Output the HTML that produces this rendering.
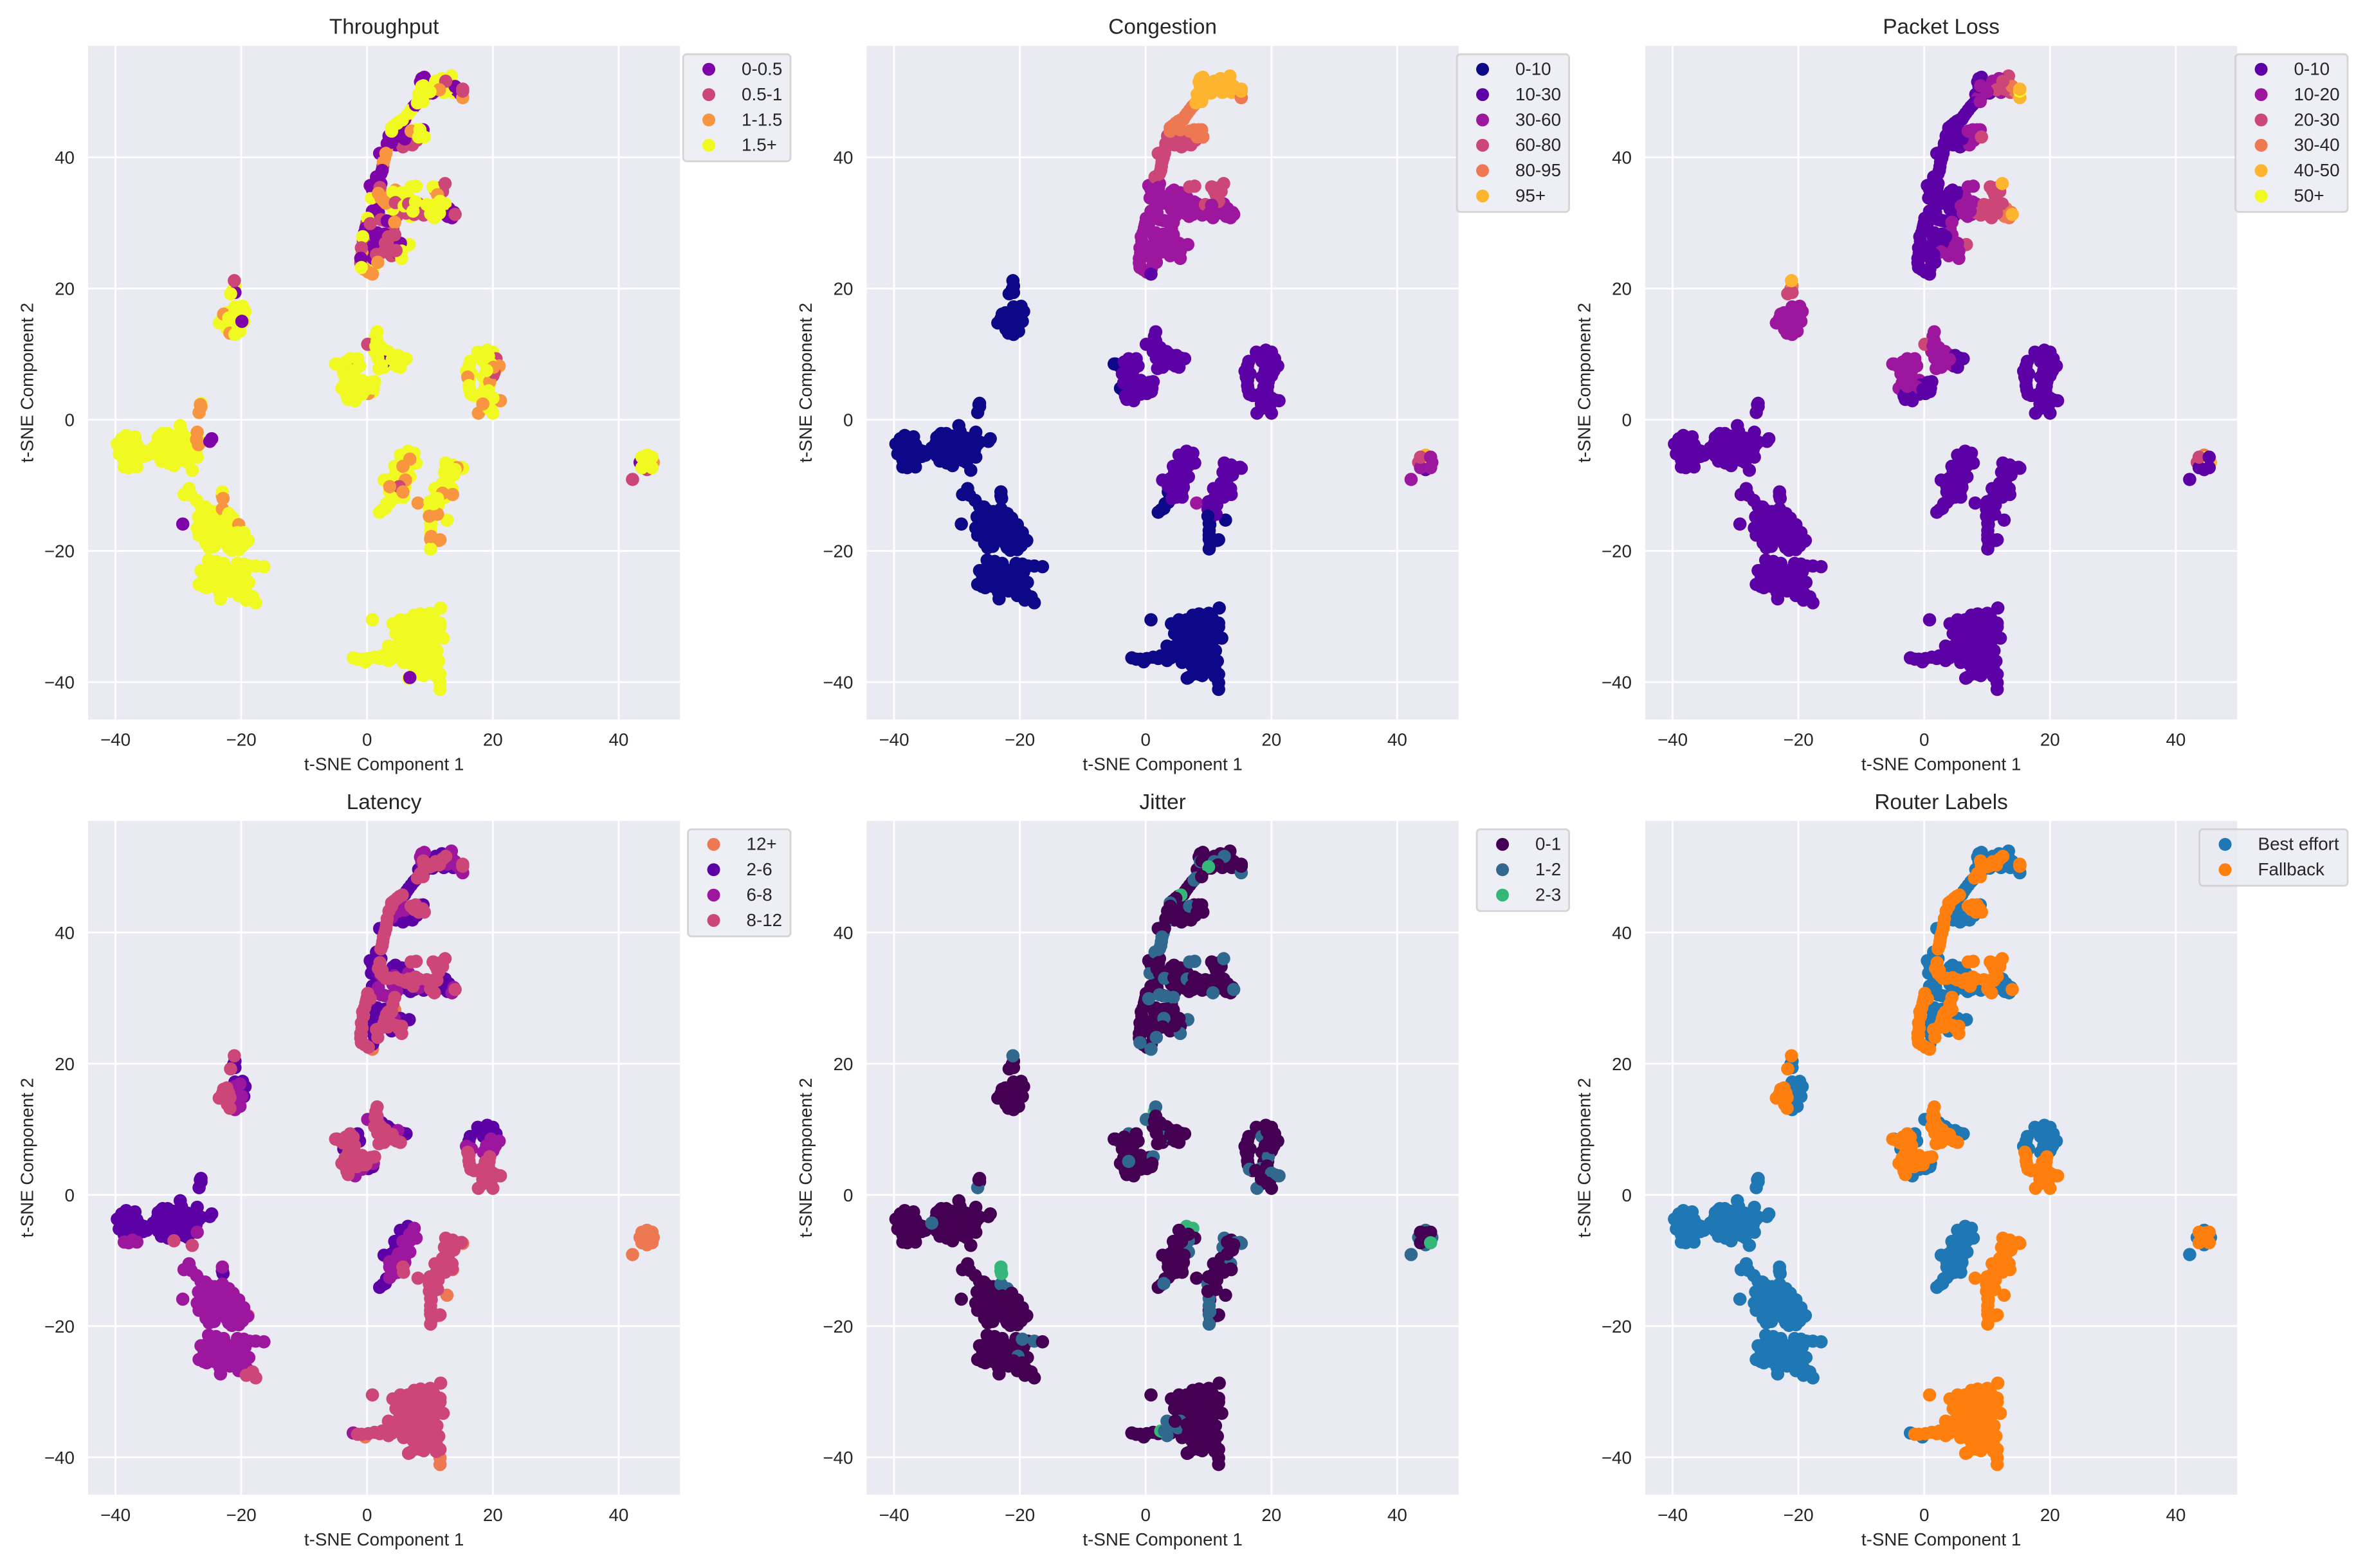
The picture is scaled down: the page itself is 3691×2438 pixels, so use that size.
<!DOCTYPE html>
<html lang="en">
<head>
<meta charset="utf-8">
<title>t-SNE network metric panels</title>
<style>
html,body{margin:0;padding:0;background:#fff}
svg{display:block}
text{font-family:"Liberation Sans",Arial,sans-serif;fill:#262626}
</style>
</head>
<body>
<svg id="figure" xmlns="http://www.w3.org/2000/svg" width="3691" height="2438" viewBox="0 0 3691 2438"></svg>
<script>
const tsneX = [
8.5,9.5,9.8,8.2,9.1,8.7,11,11.8,12.2,13,
13.7,14.3,14.8,13.4,6.3,6,7.4,6.6,4,5,
6,4.6,6.6,3.5,5.7,7,7.9,1.2,2.2,1,
2,1,2.2,4.5,5.5,4.3,5.6,6.6,4.7,6.9,
7.5,9,9,1.3,0.8,1.8,2.7,12.3,13,13.5,
12.4,1.6,2.4,1.9,1.3,1.2,0.9,0.5,3.4,4.3,
6,3.9,5,3.5,3.1,2.8,2.5,4.3,5.2,2.4,
2.6,3.6,5.2,6.2,6.9,8.2,10.9,11.4,11.1,10,
10.4,11.3,0,-0.1,-0.4,-0.6,-0.8,-0.9,-1,-0.4,
0.2,4.1,3.9,3.1,2.7,2.1,4,5,3.3,9.5,
10.5,12,11,9.1,8.5,7.5,8.8,7.7,12,12,
6,7,6.2,5.3,4.6,5.8,4.8,5.9,3.6,4.4,
4.9,4.2,3.8,3.1,2.5,6.4,5.5,5.2,12.8,13.5,
12.8,12.5,13,11.8,12.4,11.5,12.4,10.9,11,10.4,
10.5,10.2,10.2,10.1,10.3,10.7,-3.2,-4.2,-2.2,-2.3,
-3,-2.6,-1.5,-0.8,-1.6,-0.6,0,-3.5,1.3,1.8,
2.9,3.9,4.6,5.6,2.7,3.5,4.7,2.2,16.6,16.2,
16.3,17,17.9,18.6,19.9,19,20.4,18.9,19.5,18.2,
19.5,20.6,18.4,19.8,19.4,18.8,-21,-20.9,-21,-22.4,
-23,-22.2,-21.4,-21.2,-24.6,-23.4,-22,-25.9,-24.4,-22.2,
-21,-20.6,-19.4,-20.1,-19.1,-18.7,-25.5,-26,-28,-26.4,
-25.2,-23.4,-25.8,-26.4,-27,-26,-24.6,-24.3,-23.4,-22.2,
-21,-22.3,-20.8,-20,-25.6,-38.9,-38,-38.2,-37,-36,
-35.5,-31,-30,-28.3,-32,-29.8,-33,-31.8,-28.7,-28.5,
7,9.8,5,6.5,11,6,11,7.3,9,10.8,
4,2,0.2,5.8,5.9,9.7,8.5,11,-20.4,-23.3,
-39.7,-39,-38.3,-37.6,-36.9,-36.6,-39.4,-38.5,-37.7,-36.8,
-38.6,-37.6,-36.5,-35.6,-35,-38.6,-37.9,-37.3,-36.6,-38,
-34.3,-33.3,-33.2,-32.5,-31.7,-30.8,-29.7,-29.5,-28.5,-27.8,
-33.2,-32.5,-31.5,-30.3,-29.2,-32.7,-31.6,-30.4,-29.2,-28,
-31.6,-30.7,-30.3,-29.1,-28,-27,-27.8,-27.2,-26.4,-27,
-34,-32.8,-27.1,-26.8,-24.7,-25,-26.4,-26.4,-26.7,-26.5,
-28.3,-29.1,-27.1,-25.7,-23,-29.3,-26.8,-25.5,-24.2,-23,
-22,-21.3,-26.5,-25.2,-24,-22.8,-21.5,-20.4,-26.7,-25.5,
-24.2,-23,-21.8,-20.6,-19.6,-25,-23.8,-22.6,-21.4,-20.2,
-19,-25.1,-24.8,-22,-21.5,-20.4,-19.8,-23,-22.9,-18.9,
-25.2,-24,-26.4,-26.7,-25.5,-24.3,-23.3,-22.3,-20.3,-19.6,
-17.7,-16.4,-18.8,-21.8,-20.4,-19.2,-18.2,-17.7,-25.2,-24,
-23,-21.5,-20.3,-25,-23.7,-22.5,-21,-19.6,-23.4,-22.8,
0.85,11.7,10.05,7.5,5.3,4.1,4.6,3.4,-0.85,1.2,
3.4,5.1,11.6,11.6,12.1,11.1,11.4,6.6,8.5,11,
11.6,11.6,11.6,-2.2,-0.3,-1.5,6.5,8,9.3,10.6,
6.6,7.8,9,10.3,5.8,7,8.2,9.4,10.6,4.2,
5.5,6.6,7.8,9,10.2,6.8,8,9.2,10.4,7.8,
9,10,11,7.5,9.3,2.4,3,5.5,4.7,6.8,
6.5,7.5,7.8,4.4,6.8,6.8,2.7,3.9,5.6,5,
3.6,5.8,3.6,2,2.9,6,4.8,5,4.2,5.3,
6.8,5.7,6.1,5.1,3.6,5.7,8.1,12.5,13.6,15,
12.3,13.8,12,10.8,13.5,13.5,11.8,11.3,9.9,10.1,
12.7,10.1,10.1,11.4,10.1,10.1,15.2,14.3,12,13.6,
11.2,9.9,11.6,10.2,13,14,13,11.2,10.6,10,
-5,-3.8,-2.7,-2.7,-2.1,-1.7,-4,-2.9,-3,-0.5,
0.6,1.2,-4.8,-3.7,-1.5,-1.2,-1.9,0.9,0.2,1,
-3.4,-2,-0.8,-2,-1.2,-3.5,-2.3,-3.2,-2.7,-0.2,
1.4,1.6,1.2,2.2,3.2,1.9,4.1,5.3,0.1,1.4,
3.3,4.9,6.2,5.3,2.7,2.3,2.3,4,1.6,1.7,
16.2,15.8,17.6,19.1,20,20.5,21,20,18.5,18.5,
19.7,19.3,16,16.2,16.5,18.3,19.5,19.3,18.9,21.2,
20,17.7,20,19.3,17.5,18.4,16.4,20.2,20.1,19,
-21,-21,-21.1,-21.7,-23.5,-22.3,-22.8,-21.8,-21.8,-22,
-19.8,-19.4,-19.6,-20.2,-21,-20.2,-20.5,-20.5,-21,-19.9,
43.4,44.5,45.5,44.5,44.5,44.7,43.7,43.7,45.3,45.3,
42.2,9.1,13.4,10.9,8.7,15.2,10.4,12.8,14,7,
7.7,8.9,7.2,6,3.9,2,0.85,0.7,0.5,4.1,
5.1,0.85,2.2,3.2,4.1,6.2,8.3,12.8,13.8,1.4,
0.99,6.7,5.3,2.8,2.1,1,1.5,4.9,5.5,11.9,
11.5,8.95,10.9,12.5,11.5,10,15.2,15.2,8,8.9,
5.6,4.8,3.9,3.9,7,8.4,8.2,9.1,3.2,3,
2.6,2.4,2.2,2.05,1.8,2.2,3,4.5,5.9,6.6,
7.7,7.3,7,7.8,10.5,12.4,11.2,11.6,9.5,10.5,
10.1,10.7,14,0.1,-0.2,-0.7,-0.9,-1,-0.9,0.85,
4.4,4.4,3.4,2.9,2.7,1.5,1.7,5.5,5.5,4.6,0.5
];
const tsneY = [
51.5,51,50.4,49.6,49.3,52,50.2,50.8,49.9,51,
49.9,50.2,49.7,51.4,46.3,45.8,47.7,46.7,43.5,42.6,
43.4,41.9,42,43.2,41.6,43,42.6,36,36,34.5,
34.5,33.7,33.5,35,34.6,33.4,33.4,33.8,31,31,
31.3,32,31.2,32,30.9,31.6,30.4,31.5,32.2,30.8,
32.9,28.5,28,27,25.5,24,23,26,26.8,26.9,
26.5,25,25.3,43.3,41.3,39.9,38.6,44.8,45.5,34.2,
33.4,33,32.8,32.4,32.2,32.9,34.9,34,32.7,32.4,
31.1,35.3,30,29.6,28.5,27.2,25.4,24.4,23.9,22.9,
22.5,29.1,27.9,27.5,26.2,25.4,26,25.4,25.6,50.4,
50.2,51.2,50.5,50.2,49,43.5,43.6,44.2,34.8,35.5,
-5.8,-6.2,-7.5,-7.2,-8,-8.6,-9.5,-9.8,-9.9,-10.8,
-11.8,-11.3,-12.2,-12.8,-13.7,-8.2,-6.5,-11,-7.5,-7.8,
-8.6,-9.2,-10,-10.5,-10.8,-11,-11.8,-12,-13.2,-13.8,
-14,-15.2,-16,-17.6,-18.9,-18.5,8.2,8.2,8.8,7,
6.3,5.8,6,6,4.3,4.6,5.2,4.4,11.8,10.9,
9.9,9.9,9,9.4,8,8.6,8.2,10.4,7,6,
4.6,3.7,9.8,10.1,9.5,8.8,7.5,7,6.8,3.4,
3.3,3,1.7,2.3,5.1,5,15.6,14.5,17.2,14.8,
15.4,13.8,14.1,19.9,-22.4,-22.6,-23.9,-24,-24,-24.5,
-23.2,-21.9,-23.2,-25.8,-26.5,-22.3,-22.8,-25.4,-11.5,-13.2,
-13.8,-14.8,-15,-15.2,-16.5,-17.8,-17.5,-19.3,-17.4,-15.7,
-16.6,-18.9,-19,-18,-18.8,-3.8,-3.4,-5.3,-5.7,-4.6,
-4.8,-3.2,-3,-3.9,-5,-5.8,-4.4,-6,-5.3,-6.5,
-30.8,-31,-31.6,-31.5,-31.8,-35.5,-33.4,-37.4,-39,-37.2,
-36.3,-36.4,-36.4,-37,-36.5,-29.7,-29.6,-37,-24.8,-23.7,
-3.7,-2.9,-2.4,-3.3,-2.6,-3.8,-5.2,-4.2,-4.8,-4.9,
-6.1,-5.8,-6,-5.6,-5.4,-7.2,-7.3,-6.9,-7.2,-6.5,
-4.8,-3.5,-2.7,-2.1,-2.1,-2.5,-0.9,-1.8,-2.8,-3,
-5.5,-4.3,-3.5,-3.6,-3.4,-6.3,-5.2,-4.9,-4.8,-4.4,
-6.6,-7,-6,-6.2,-5.8,-5.7,-7.7,-4.6,-3.4,-1.9,
-4.3,-2.4,-3,-3.8,-2.9,-3.3,2.5,2,1.1,2.3,
-10.5,-11.4,-12.3,-13.3,-11.6,-15.9,-14.8,-14.2,-14,-13.6,
-14.3,-15,-16,-15.6,-15.4,-15.4,-16,-16,-17.6,-17.2,
-16.8,-16.8,-17.2,-17.2,-17.2,-18.2,-18.1,-18.2,-18.4,-18.5,
-18.5,-19.5,-19,-19.5,-19.9,-19.8,-19.2,-11,-12,-18.4,
-21.4,-21.6,-23,-25.1,-25.6,-25.4,-27.3,-22.8,-23,-22,
-22.3,-22.4,-24.8,-26.1,-26.8,-27.5,-27,-27.9,-23.2,-23.2,
-24,-24,-24.6,-24.4,-25,-25.2,-25.3,-25.6,-26.3,-21.9,
-30.5,-28.7,-29.5,-29.8,-30.5,-31.1,-32.6,-34.5,-36.5,-36.2,
-36.7,-35.5,-31,-31.6,-33.3,-35.2,-36.8,-39.4,-38.8,-39.1,
-38.8,-41.1,-40.1,-36.3,-36.9,-36.5,-30.5,-31,-30.6,-30.3,
-32,-32.3,-32.1,-32,-33.5,-33.6,-33.6,-33.5,-33.3,-35,
-34.5,-35,-35,-35,-34.8,-36.3,-36.3,-36.3,-36.3,-37.6,
-37.6,-37.6,-38,-38.8,-38,-36,-36,-31.8,-34.5,-39.3,
-4.8,-5.1,-6.6,-7.1,-7,-8.7,-9.2,-9,-6,-8,
-11,-11.8,-12.6,-14.1,-13.5,-10.3,-10,-9,-12,-5.4,
-6,-7.1,-9.2,-10.2,-10.2,-11,-12.7,-6.6,-6.9,-7.25,
-8,-8.4,-9.7,-10.5,-10.5,-11.3,-11.6,-13,-13.6,-14.6,
-15.3,-16.9,-15.8,-18.4,-18.2,-19.7,-7.4,-7.3,-11.2,-11.4,
-14.4,-14.7,-18.3,-17.8,-7.2,-7.6,-9,-12,-12.8,-12.5,
8.5,7.9,9.3,7.8,6.3,5.2,4.8,4.4,3.1,5.3,
5.7,5.8,8.5,7,9.3,8.2,2.9,4.3,4,4.8,
8.8,7.5,3.9,4,5,5.6,3.5,3.6,5.1,4.6,
12.7,13.4,10.4,9.7,8.7,7.8,8.5,8,11.5,11.2,
10.4,9.8,9.3,8.9,8.8,8.3,11,9.2,12,9.4,
8.2,7.4,10.3,10.6,10.3,9.3,8.2,6.7,6.5,8.9,
8.5,9.7,6.5,5.2,3.9,4,5.8,4.4,2.9,2.9,
3.3,1,1,1.8,3.7,2.4,8.9,7.2,8,7.5,
20.4,19.4,21.2,19.2,14.75,16.3,16.1,14.8,13.2,15.5,
17.3,16.5,15,13.5,13,16.9,15.2,14,16.5,15,
-6.5,-5.4,-6.5,-7.6,-6.5,-5.8,-7.3,-5.7,-5.7,-7.3,
-9.1,52.2,52.4,51.6,50.8,49.1,49.8,50.4,50.8,47.2,
48,44.2,41.9,42.8,42.3,40.6,35.1,33.8,35.7,34.7,
34.4,31.8,30.5,30.3,32.1,31.5,31.6,31,31.6,27.9,
24.6,26.7,26.9,28.3,26,26.5,37,43.2,44.2,52,
31.5,50.9,50.8,51.6,50.3,50,50.1,50.4,48.3,48.5,
45.7,45.2,44.5,44,44,44.2,43.1,43.1,42.1,40.6,
39.3,38,37.5,35.4,34.5,33.8,33,33.1,32.6,32.9,
33.2,31.8,35.5,35.6,35.5,36,34.3,33.3,32.8,32.7,
31.4,30.8,31.3,30.7,29.2,27.9,26.2,24.6,23.2,22.2,
30.1,28.2,27.9,26.9,25.6,25.2,24,25.7,24.6,25.8,29.9
];
const throughputBin = [
0,3,0,3,1,0,0,3,3,1,
3,0,0,3,3,0,0,3,0,0,
0,0,1,0,1,1,1,0,0,0,
1,0,0,2,3,1,1,3,1,3,
1,1,1,0,0,0,1,3,0,0,
3,0,1,1,1,2,3,0,1,1,
3,1,0,0,2,2,1,3,3,2,
2,1,1,3,1,1,2,3,2,3,
3,3,0,1,0,1,2,1,1,2,
2,1,1,1,1,1,1,1,1,3,
2,3,2,3,3,2,3,3,1,1,
3,3,3,3,3,3,3,3,3,3,
3,3,3,3,3,3,3,3,3,3,
3,3,3,3,3,3,3,3,3,3,
3,3,3,3,3,3,3,3,3,3,
3,3,3,3,3,3,3,3,3,3,
3,3,3,3,3,3,3,3,3,3,
3,3,3,3,3,3,3,3,3,3,
3,3,3,3,3,3,3,3,3,3,
3,3,3,3,3,3,3,3,3,3,
3,3,3,3,3,3,3,3,3,3,
3,3,3,3,3,3,3,3,3,3,
3,3,3,3,3,3,3,3,3,3,
3,3,3,3,3,3,3,3,3,3,
3,3,3,3,3,3,3,3,3,3,
3,3,3,3,3,3,3,3,3,3,
3,3,3,3,3,3,3,3,3,3,
3,3,3,3,3,3,3,3,3,3,
3,3,3,3,3,3,3,3,3,3,
3,3,3,3,3,3,3,3,3,3,
3,3,3,3,3,3,3,3,3,2,
3,3,2,2,0,0,3,2,2,2,
3,3,3,3,2,0,3,3,3,2,
3,3,3,3,3,3,3,2,3,3,
3,3,3,3,3,3,3,3,3,3,
3,3,3,3,3,3,3,3,2,3,
3,3,3,3,3,3,3,3,3,3,
3,3,3,3,3,3,3,3,3,3,
3,3,3,3,3,3,3,3,3,3,
3,3,3,3,3,3,3,3,3,3,
3,3,3,3,3,3,3,3,3,3,
3,3,3,3,3,3,3,3,3,3,
3,3,3,3,3,3,3,3,3,3,
3,3,3,3,3,3,3,3,3,3,
3,3,3,3,3,3,3,3,3,0,
3,3,3,3,3,3,3,3,3,3,
3,3,3,3,3,3,3,3,3,3,
2,2,2,1,2,2,2,3,3,3,
3,3,3,3,3,3,3,3,3,3,
3,3,3,2,2,3,3,2,2,2,
2,2,2,2,3,3,3,3,3,3,
3,3,3,2,3,3,3,3,3,3,
3,3,3,3,3,3,3,3,2,3,
3,3,3,3,3,3,3,3,3,3,
3,3,3,2,3,3,3,3,1,3,
3,3,3,3,0,3,3,3,3,3,
3,3,3,3,3,1,2,1,3,3,
3,3,2,3,3,3,2,3,3,2,
3,2,3,3,3,2,3,1,2,3,
3,0,1,3,3,3,2,3,2,3,
3,3,3,3,3,3,3,3,3,0,
0,3,2,1,3,3,3,3,3,3,
1,0,3,3,3,2,0,3,0,3,
0,0,1,0,0,0,0,3,0,3,
3,0,1,0,3,1,1,0,0,0,
0,3,0,0,1,0,0,0,0,3,
3,3,3,1,2,3,1,1,3,3,
3,3,3,3,2,3,3,3,0,2,
2,0,0,1,2,2,2,1,3,1,
3,3,3,3,3,1,2,3,3,3,
3,3,1,3,0,3,1,0,3,2,
2,1,1,1,1,1,2,3,3,1,1
];
const congestionBin = [
5,5,5,5,5,5,5,5,5,5,
5,5,5,5,4,4,4,4,4,3,
4,3,3,3,3,3,3,2,2,2,
2,2,2,2,2,2,2,2,2,2,
2,2,2,2,2,2,2,2,2,2,
2,2,2,2,2,2,2,2,2,2,
2,2,2,3,3,3,3,4,4,2,
2,2,2,2,2,2,3,3,3,2,
2,3,2,2,2,2,2,2,2,2,
2,2,2,2,2,2,2,2,2,5,
5,5,5,5,5,4,4,4,3,3,
1,1,1,1,1,1,1,1,1,1,
1,0,0,0,0,1,1,1,1,1,
1,1,1,1,1,1,1,1,1,1,
1,0,0,0,0,0,1,1,1,1,
1,1,1,1,1,1,1,1,1,1,
1,1,1,1,1,1,1,1,1,1,
1,1,1,1,1,1,1,1,1,1,
1,1,1,1,1,1,0,0,0,0,
0,0,0,0,0,0,0,0,0,0,
0,0,0,0,0,0,0,0,0,0,
0,0,0,0,0,0,0,0,0,0,
0,0,0,0,0,0,0,0,0,0,
0,0,0,0,0,0,0,0,0,0,
0,0,0,0,0,0,0,0,0,0,
0,0,0,0,0,0,0,0,0,0,
0,0,0,0,0,0,0,0,0,0,
0,0,0,0,0,0,0,0,0,0,
0,0,0,0,0,0,0,0,0,0,
0,0,0,0,0,0,0,0,0,0,
0,0,0,0,0,0,0,0,0,0,
0,0,0,0,0,0,0,0,0,0,
0,0,0,0,0,0,0,0,0,0,
0,0,0,0,0,0,0,0,0,0,
0,0,0,0,0,0,0,0,0,0,
0,0,0,0,0,0,0,0,0,0,
0,0,0,0,0,0,0,0,0,0,
0,0,0,0,0,0,0,0,0,0,
0,0,0,0,0,0,0,0,0,0,
0,0,0,0,0,0,0,0,0,0,
0,0,0,0,0,0,0,0,0,0,
0,0,0,0,0,0,0,0,0,0,
0,0,0,0,0,0,0,0,0,0,
0,0,0,0,0,0,0,0,0,0,
0,0,0,0,0,0,0,0,0,0,
1,1,1,1,1,1,1,1,1,1,
0,1,0,0,0,1,1,1,1,1,
1,1,1,1,1,1,2,1,1,1,
1,1,1,1,1,1,1,1,1,0,
0,0,0,0,0,0,1,1,1,1,
1,0,0,0,1,1,1,1,1,1,
0,0,1,1,1,1,0,0,1,1,
1,1,0,1,1,1,1,1,1,1,
1,1,1,1,1,1,1,1,1,1,
1,1,1,1,1,1,1,1,1,1,
1,1,1,1,1,1,1,1,1,1,
1,1,1,1,1,1,1,1,1,1,
1,1,1,1,1,1,1,1,1,1,
1,1,1,1,1,1,1,1,1,1,
0,0,0,0,0,0,0,0,0,0,
0,0,0,0,0,0,0,0,0,0,
3,5,2,1,2,5,2,3,2,2,
2,5,5,5,5,4,5,5,5,4,
4,4,3,3,3,3,2,2,2,2,
2,2,2,2,2,2,2,2,2,2,
2,2,2,2,2,2,3,3,4,5,
2,5,5,5,5,5,5,5,5,5,
4,4,4,4,4,4,4,4,3,3,
3,3,3,2,2,2,2,2,2,2,
2,2,3,3,3,3,3,3,3,2,
2,2,2,2,2,2,2,2,2,1,
2,2,2,2,2,2,2,2,2,2,2
];
const packetLossBin = [
0,0,0,0,0,0,1,1,1,2,
2,3,3,2,0,0,0,0,0,0,
0,0,1,0,0,1,1,0,0,0,
0,0,0,0,0,0,1,1,0,1,
1,2,2,0,0,0,0,3,3,3,
2,0,0,0,0,0,0,0,1,1,
1,1,1,0,0,0,0,0,0,0,
0,0,0,1,1,1,2,2,2,2,
2,2,0,0,0,0,0,0,0,0,
0,1,1,0,1,0,1,1,1,1,
1,2,2,1,1,1,1,1,2,2,
0,0,0,0,0,0,0,0,0,0,
0,0,0,0,0,0,0,0,0,0,
0,0,0,0,0,0,0,0,0,0,
0,0,0,0,0,0,1,1,1,1,
1,1,1,1,0,0,0,1,1,1,
1,1,0,0,1,1,0,1,0,0,
0,0,0,0,0,0,0,0,0,0,
0,0,0,0,0,0,1,1,1,1,
1,1,1,2,0,0,0,0,0,0,
0,0,0,0,0,0,0,0,0,0,
0,0,0,0,0,0,0,0,0,0,
0,0,0,0,0,0,0,0,0,0,
0,0,0,0,0,0,0,0,0,0,
0,0,0,0,0,0,0,0,0,0,
0,0,0,0,0,0,0,0,0,0,
0,0,0,0,0,0,0,0,0,0,
0,0,0,0,0,0,0,0,0,0,
0,0,0,0,0,0,0,0,0,0,
0,0,0,0,0,0,0,0,0,0,
0,0,0,0,0,0,0,0,0,0,
0,0,0,0,0,0,0,0,0,0,
0,0,0,0,0,0,0,0,0,0,
0,0,0,0,0,0,0,0,0,0,
0,0,0,0,0,0,0,0,0,0,
0,0,0,0,0,0,0,0,0,0,
0,0,0,0,0,0,0,0,0,0,
0,0,0,0,0,0,0,0,0,0,
0,0,0,0,0,0,0,0,0,0,
0,0,0,0,0,0,0,0,0,0,
0,0,0,0,0,0,0,0,0,0,
0,0,0,0,0,0,0,0,0,0,
0,0,0,0,0,0,0,0,0,0,
0,0,0,0,0,0,0,0,0,0,
0,0,0,0,0,0,0,0,0,0,
0,0,0,0,0,0,0,0,0,0,
0,0,0,0,0,0,0,0,0,0,
0,0,0,0,0,0,0,0,0,0,
0,0,0,0,0,0,0,0,0,0,
0,0,0,0,0,0,0,0,0,0,
0,0,0,0,0,0,0,0,0,0,
1,1,1,1,1,1,1,0,0,0,
0,0,1,1,1,1,0,0,0,0,
1,1,0,0,1,1,0,0,1,0,
1,1,1,1,1,1,1,0,2,1,
1,0,0,0,1,1,1,1,1,1,
0,0,0,0,0,0,0,0,0,0,
0,0,0,0,0,0,0,0,0,0,
0,0,0,0,0,0,0,0,0,0,
3,2,4,2,1,1,1,1,1,1,
1,1,1,1,1,1,1,1,1,1,
2,3,4,0,1,5,0,2,0,0,
0,0,2,1,0,4,0,2,3,0,
0,1,1,0,0,0,0,0,0,0,
0,0,0,0,0,1,2,3,3,0,
0,2,1,0,0,0,0,0,0,1,
2,1,1,2,2,1,5,4,0,1,
0,0,0,0,1,1,1,2,0,0,
0,0,0,0,0,0,0,0,1,1,
1,1,1,1,2,4,2,2,2,2,
2,2,4,0,0,0,0,0,0,0,
1,1,0,0,1,0,0,1,1,1,0
];
const latencyBin = [
2,1,2,1,1,2,1,2,1,2,
1,2,2,1,1,1,1,1,2,1,
2,1,1,2,1,1,1,1,1,1,
1,1,2,1,1,2,1,2,2,1,
1,2,1,1,1,2,2,1,1,2,
1,1,1,1,1,1,1,1,1,2,
1,1,1,3,3,3,3,3,3,3,
3,3,3,3,3,3,3,3,3,3,
3,3,3,3,3,3,3,3,3,3,
3,3,3,3,3,3,3,3,3,3,
3,3,3,3,3,3,3,3,3,3,
1,2,2,1,1,2,2,2,1,2,
2,2,2,1,1,2,1,2,3,3,
3,3,3,3,3,3,3,3,3,3,
3,3,3,3,3,3,3,3,3,3,
3,3,3,3,3,3,3,3,3,3,
3,1,1,1,3,3,3,3,2,3,
3,3,1,1,1,1,2,2,2,3,
3,3,3,3,3,3,2,2,1,3,
3,3,2,1,2,2,2,2,2,2,
2,2,2,2,2,2,2,2,2,2,
2,2,2,2,2,2,2,2,2,2,
2,2,2,2,2,1,1,1,1,1,
1,1,1,1,1,1,1,1,1,1,
3,3,3,3,3,3,3,3,3,3,
3,3,3,3,3,3,3,3,2,2,
1,1,1,1,1,1,1,1,1,1,
1,1,1,1,1,2,2,2,2,1,
1,1,1,1,1,1,1,1,1,1,
1,1,1,1,1,1,1,1,1,1,
1,3,1,1,1,2,3,1,1,1,
1,1,1,1,1,1,1,1,1,1,
2,2,2,2,1,2,2,2,2,2,
2,2,2,2,2,2,2,2,2,2,
2,2,2,2,2,2,2,2,2,2,
2,2,2,2,2,2,2,2,1,0,
2,2,2,2,2,2,2,2,2,2,
2,2,2,2,2,3,3,3,2,2,
2,2,2,2,2,2,2,2,2,2,
3,3,3,3,3,3,3,3,3,3,
3,3,3,3,3,3,3,3,3,3,
3,0,0,2,0,3,3,3,3,3,
3,3,3,3,3,3,3,3,3,3,
3,3,3,3,3,3,3,3,3,3,
3,3,3,3,3,3,3,3,3,3,
1,2,2,1,2,2,1,1,1,1,
2,3,2,1,1,2,2,2,2,1,
2,2,2,2,2,3,3,3,3,3,
3,3,3,3,3,3,3,3,3,3,
0,3,3,0,3,3,0,3,3,0,
3,3,3,3,3,3,3,3,3,3,
3,3,3,3,3,3,3,3,3,3,
3,3,2,1,1,1,2,1,1,2,
3,3,2,1,3,3,2,3,3,3,
3,3,3,3,3,3,3,3,2,1,
1,2,1,1,3,0,1,3,3,3,
1,2,1,1,1,1,2,2,2,1,
2,1,3,3,3,3,3,3,3,3,
3,3,3,3,3,3,1,2,2,2,
1,1,3,3,3,3,3,3,3,3,
1,1,1,2,2,2,2,2,2,2,
0,0,0,0,0,0,0,0,0,0,
0,2,2,1,2,2,1,2,2,1,
1,1,1,1,2,1,1,1,1,1,
1,1,2,2,2,1,2,1,2,1,
1,1,1,1,1,1,1,2,2,1,
1,3,3,3,3,3,3,3,3,3,
3,3,3,3,3,0,3,3,3,3,
3,3,3,3,3,3,3,3,3,3,
3,3,3,3,3,3,3,0,3,3,
3,3,3,3,3,3,3,3,3,0,
3,0,3,3,3,3,3,3,3,3,3
];
const jitterBin = [
0,0,0,0,0,0,0,0,0,0,
0,0,0,0,0,0,0,0,0,0,
0,0,0,0,0,0,0,0,0,0,
0,0,0,0,0,0,0,0,0,0,
0,0,0,0,0,0,0,0,0,0,
0,0,0,0,0,0,0,0,0,0,
0,0,0,0,1,1,1,0,0,0,
0,0,0,0,0,0,0,0,0,0,
0,0,0,0,0,0,0,0,0,0,
0,0,0,0,0,0,0,0,0,0,
0,0,0,0,0,0,0,0,0,0,
0,0,0,0,0,0,0,0,0,0,
0,0,0,0,0,0,0,0,0,0,
0,0,0,0,0,0,0,0,0,0,
0,0,0,0,0,0,0,0,0,0,
0,0,0,0,0,0,0,0,0,0,
0,0,0,0,0,0,0,0,0,0,
0,0,0,0,0,0,0,0,0,0,
0,0,0,0,0,0,0,0,0,0,
0,0,0,0,0,0,0,0,0,0,
0,0,0,0,0,0,0,0,0,0,
0,0,0,0,0,0,0,0,0,0,
0,0,0,0,0,0,0,0,0,0,
0,0,0,0,0,0,0,0,0,0,
0,0,0,0,0,0,0,0,0,0,
0,0,0,0,0,0,0,0,0,0,
0,0,0,0,0,0,0,0,0,0,
0,0,0,0,0,0,0,0,0,0,
0,0,0,0,0,0,0,0,0,0,
0,0,0,0,0,0,0,0,0,0,
0,0,0,0,0,0,0,0,0,0,
1,0,0,0,0,0,0,0,1,0,
0,0,0,0,2,0,0,0,0,1,
1,0,0,0,0,0,0,0,0,0,
0,0,0,0,0,0,0,0,0,0,
0,0,0,0,0,0,0,2,2,0,
0,0,0,0,0,0,0,0,0,1,
1,0,0,0,0,0,0,0,0,0,
0,0,1,0,0,0,0,0,0,0,
0,0,0,0,0,0,0,1,0,0,
1,1,0,0,0,0,0,0,0,0,
0,0,0,0,0,0,0,0,0,0,
0,0,0,0,0,0,0,0,0,1,
1,0,0,0,0,0,0,0,0,0,
0,0,0,0,0,2,1,0,0,0,
2,2,0,0,1,1,0,0,0,0,
0,0,0,0,1,0,0,0,0,0,
0,0,0,0,0,0,0,1,0,1,
1,0,0,0,1,0,0,0,1,1,
0,1,1,0,1,1,1,1,0,0,
0,0,0,1,0,0,0,0,0,0,
0,1,1,0,0,0,0,0,0,0,
0,1,0,0,0,0,0,0,0,0,
0,0,0,0,0,0,0,0,1,0,
2,1,0,1,1,0,0,0,1,0,
0,0,0,0,1,0,0,0,0,0,
0,0,0,0,0,0,0,0,0,1,
0,0,0,0,1,1,1,0,0,1,
1,1,0,0,0,0,0,0,0,0,
0,0,1,0,0,0,0,0,0,0,
0,0,0,0,0,0,0,0,0,0,
1,1,1,1,0,0,0,0,0,2,
1,0,0,0,1,1,0,0,0,0,
1,0,0,0,0,0,0,1,0,0,
0,0,1,1,0,0,0,0,0,0,
0,1,0,0,0,0,1,0,0,0,
0,0,1,1,0,2,0,0,1,0,
2,0,1,0,1,0,0,0,0,0,
1,1,1,0,0,0,1,0,0,1,
0,0,1,1,0,1,0,0,0,0,
0,1,1,0,0,0,0,0,1,1,
1,0,0,1,0,0,1,0,1,0,1
];
const routerBin = [
0,0,0,0,0,0,0,0,0,0,
0,0,0,0,0,0,0,0,0,0,
0,0,0,0,0,0,0,0,0,0,
0,0,0,0,0,0,0,0,0,0,
0,0,0,0,0,0,0,0,0,0,
0,0,0,0,0,0,0,0,0,0,
0,0,0,1,1,1,1,1,1,1,
1,1,1,1,1,1,1,1,1,1,
1,1,1,1,1,1,1,1,1,1,
1,1,1,1,1,1,1,1,1,1,
1,1,1,1,1,1,1,1,1,1,
0,0,0,0,0,0,0,0,0,0,
0,0,0,0,0,0,0,0,1,1,
1,1,1,1,1,1,1,1,1,1,
1,1,1,1,1,1,1,1,1,1,
1,1,1,1,1,1,1,1,1,1,
1,0,0,0,1,1,1,1,0,1,
1,1,0,0,0,0,0,0,0,1,
1,1,1,1,1,1,0,0,0,1,
1,1,0,0,0,0,0,0,0,0,
0,0,0,0,0,0,0,0,0,0,
0,0,0,0,0,0,0,0,0,0,
0,0,0,0,0,0,0,0,0,0,
0,0,0,0,0,0,0,0,0,0,
1,1,1,1,1,1,1,1,1,1,
1,1,1,1,1,1,1,1,0,0,
0,0,0,0,0,0,0,0,0,0,
0,0,0,0,0,0,0,0,0,0,
0,0,0,0,0,0,0,0,0,0,
0,0,0,0,0,0,0,0,0,0,
0,0,0,0,0,0,0,0,0,0,
0,0,0,0,0,0,0,0,0,0,
0,0,0,0,0,0,0,0,0,0,
0,0,0,0,0,0,0,0,0,0,
0,0,0,0,0,0,0,0,0,0,
0,0,0,0,0,0,0,0,0,0,
0,0,0,0,0,0,0,0,0,0,
0,0,0,0,0,0,0,0,0,0,
0,0,0,0,0,0,0,0,0,0,
1,1,1,1,1,1,1,1,1,1,
1,1,1,1,1,1,1,1,1,1,
1,1,1,0,0,1,1,1,1,1,
1,1,1,1,1,1,1,1,1,1,
1,1,1,1,1,1,1,1,1,1,
1,1,1,1,1,1,1,1,1,1,
0,0,0,0,0,0,0,0,0,0,
0,0,0,0,0,0,0,0,0,0,
0,0,0,0,0,0,1,1,1,1,
1,1,1,1,1,1,1,1,1,1,
1,1,1,1,1,1,1,1,1,1,
1,1,1,1,1,1,1,1,1,1,
1,1,1,1,1,1,1,1,1,1,
1,1,0,0,0,0,0,0,0,0,
1,1,0,0,1,1,0,1,1,1,
1,1,1,1,1,1,1,1,0,0,
0,0,0,0,1,1,0,1,1,1,
0,0,0,0,0,0,0,0,0,0,
0,0,1,1,1,1,1,1,1,1,
1,1,1,1,1,1,0,0,0,0,
0,0,1,1,1,1,1,1,1,1,
0,0,0,0,0,0,0,0,0,0,
0,0,0,0,1,1,1,1,1,1,
0,0,0,0,0,0,0,0,0,0,
0,0,0,0,0,0,0,0,0,0,
0,0,0,0,0,0,0,0,0,0,
0,0,0,0,0,0,0,0,0,0,
0,1,1,1,1,1,1,1,1,1,
1,1,1,1,1,1,1,1,1,1,
1,1,1,1,1,1,1,1,1,1,
1,1,1,1,1,1,1,1,1,1,
1,1,1,1,1,1,1,1,1,1,
1,1,1,1,1,1,1,1,1,1,1
];

const throughputLabels = ['0-0.5','0.5-1','1-1.5','1.5+'];
const congestionLabels = ['0-10','10-30','30-60','60-80','80-95','95+'];
const packetLossLabels = ['0-10','10-20','20-30','30-40','40-50','50+'];
const latencyLabels = ['12+','2-6','6-8','8-12'];
const jitterLabels = ['0-1','1-2','2-3'];
const routerLabels = ['Best effort','Fallback'];
const xTicks = [-40,-20,0,20,40];
const yTicks = [-40,-20,0,20,40];

const plasma6 = ['#0d0887','#5c01a6','#9c179e','#cc4778','#ed7953','#fdb42f'];
const panels = [
  {title:'Throughput',  slug:'throughput',  bins:throughputBin, labels:throughputLabels, colors:['#7e03a8','#cc4778','#f89540','#f0f921'], col:0,row:0,legendW:167, byClass:false},
  {title:'Congestion',  slug:'congestion',  bins:congestionBin, labels:congestionLabels, colors:plasma6, col:1,row:0,legendW:174.5, byClass:false},
  {title:'Packet Loss', slug:'packet-loss', bins:packetLossBin, labels:packetLossLabels, colors:['#5c01a6','#9c179e','#cc4778','#ed7953','#fdb42f','#f0f921'], col:2,row:0,legendW:174.5, byClass:false},
  {title:'Latency',     slug:'latency',     bins:latencyBin,    labels:latencyLabels,    colors:['#ed7953','#5c01a6','#9c179e','#cc4778'], col:0,row:1,legendW:159.5, byClass:true},
  {title:'Jitter',      slug:'jitter',      bins:jitterBin,     labels:jitterLabels,     colors:['#440154','#31688e','#35b779'], col:1,row:1,legendW:143.5, byClass:false},
  {title:'Router Labels',slug:'router-labels',bins:routerBin,   labels:routerLabels,     colors:['#1f77b4','#ff7f0e'], col:2,row:1,legendW:230.5, byClass:true}
];

const SVGNS = 'http://www.w3.org/2000/svg';
const figure = document.getElementById('figure');
const colX0 = [570.7,1781.2,2991.7];
const rowY0 = [652.6,1857.8];
const UX = 9.78, UY = 10.2;
const XMIN = -44.35, XMAX = 49.75, YMIN = -45.7, YMAX = 57;
const MARKER_R = 10.3;

function make(tag, parent, props, text){
  const el = document.createElementNS(SVGNS, tag);
  for (const k in props) el.setAttribute(k, props[k]);
  if (text !== undefined) el.textContent = text;
  parent.appendChild(el);
  return el;
}
function fmtTick(v){ return v < 0 ? '\u2212' + Math.abs(v) : String(v); }

panels.forEach(function(p){
  const x = function(v){ return colX0[p.col] + v * UX; };
  const y = function(v){ return rowY0[p.row] - v * UY; };
  const left = x(XMIN), right = x(XMAX), top = y(YMAX), bottom = y(YMIN);
  const midX = (left + right) / 2, midY = (top + bottom) / 2;

  const g = make('g', figure, {});
  
  

  const bg = make('rect', g, {x:left, y:top, width:right-left, height:bottom-top, fill:'#eaeaf2'});
  
  

  xTicks.forEach(function(t){
    const line = make('line', g, {x1:x(t), x2:x(t), y1:top, y2:bottom, stroke:'#fff', 'stroke-width':2.78});
    
    
    const lab = make('text', g, {x:x(t), y:bottom+41, 'font-size':27.78, 'text-anchor':'middle'}, fmtTick(t));
    
    
  });
  yTicks.forEach(function(t){
    const line = make('line', g, {x1:left, x2:right, y1:y(t), y2:y(t), stroke:'#fff', 'stroke-width':2.78});
    
    
    const lab = make('text', g, {x:left-21, y:y(t)+10, 'font-size':27.78, 'text-anchor':'end'}, fmtTick(t));
    
    
  });

  const order = tsneX.map(function(_, i){ return i; });
  if (p.byClass) order.sort(function(a,b){ return (p.bins[a]-p.bins[b]) || (a-b); });
  const marks = make('g', g, {});
  
  
  order.forEach(function(i){
    const c = make('circle', marks, {cx:x(tsneX[i]), cy:y(tsneY[i]), r:MARKER_R, fill:p.colors[p.bins[i]]});
    
    
  });

  const title = make('text', g, {x:midX, y:top-18.5, 'font-size':33.33, 'text-anchor':'middle'}, p.title);
  
  

  const xLab = make('text', g, {x:midX, y:bottom+79, 'font-size':27.78, 'text-anchor':'middle'}, 't-SNE Component 1');
  
  

  const yx = left - 85.5;
  const yLab = make('text', g, {x:yx, y:midY, 'font-size':27.78, 'text-anchor':'middle', transform:'rotate(-90 '+yx+' '+midY+')'}, 't-SNE Component 2');
  
  

  const legRight = right + 171.8;
  const legLeft = legRight - p.legendW;
  const legTop = top + 13;
  const legH = 9 + p.labels.length * 39.4;
  const leg = make('g', g, {});
  
  
  const box = make('rect', leg, {x:legLeft, y:legTop, width:p.legendW, height:legH, rx:5.5, ry:5.5, fill:'#eaeaf2', 'fill-opacity':0.8, stroke:'#cccccc', 'stroke-opacity':0.8, 'stroke-width':2.78});
  
  
  p.labels.forEach(function(label, i){
    const my = top + 36.5 + i * 39.4;
    const m = make('circle', leg, {cx:legLeft+40, cy:my, r:10, fill:p.colors[i]});
    
    
    const t = make('text', leg, {x:legLeft+91, y:my+8.8, 'font-size':27.78}, label);
    
    
  });
});
</script>
</body>
</html>
